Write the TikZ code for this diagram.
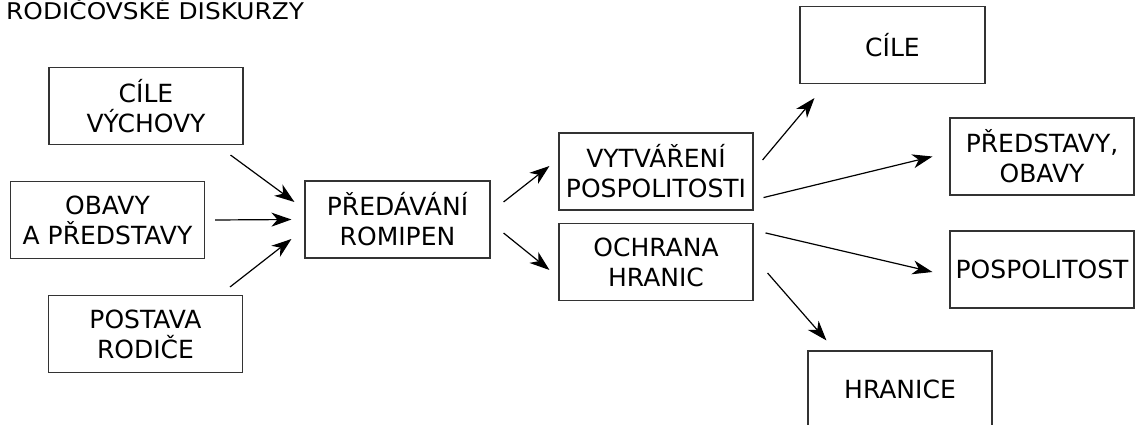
\documentclass[tikz,border=0pt]{standalone}
\usepackage{fontspec}
\setmainfont{DejaVu Sans}
\usetikzlibrary{arrows.meta}
\begin{document}
\begin{tikzpicture}[x=1pt,y=-1pt]
		\tikzset{mybox/.style={draw=black!80,line width=1.1pt,minimum width=194pt,minimum height=77pt,align=center,inner sep=0pt,font=\fontsize{25}{30}\selectfont,text=black},
			myarrow/.style={line width=1.2pt,-{Stealth[length=20pt,width=14pt,inset=6pt]}}}
		\useasboundingbox (0,0) rectangle (1135,425);
		%Title
		\node[anchor=base west,inner sep=0pt,font=\fontsize{23}{27}\selectfont] (title) at (6,20) {\scalebox{1.08}[1]{RODIČOVSKÉ DISKURZY}};
		%Left column
		\node[mybox] (cv) at (146,106) {CÍLE\\VÝCHOVY};
		\node[mybox] (oa) at (107.5,220) {OBAVY\\A PŘEDSTAVY};
		\node[mybox] (pr) at (145.5,334) {POSTAVA\\RODIČE};
		%Middle
		\node[mybox,minimum width=185pt] (pd) at (397.5,219.5) {PŘEDÁVÁNÍ\\ROMIPEN};
		\node[mybox] (vp) at (656,171.5) {VYTVÁŘENÍ\\POSPOLITOSTI};
		\node[mybox] (oh) at (656,262) {OCHRANA\\HRANIC};
		%Right column
		\node[mybox,minimum width=185pt] (ci) at (892.5,45) {CÍLE};
		\node[mybox,minimum width=184pt] (po) at (1042,156.5) {PŘEDSTAVY,\\OBAVY};
		\node[mybox,minimum width=184pt] (ps) at (1042,269.5) {POSPOLITOST};
		\node[mybox,minimum width=184pt] (hr) at (900,389.5) {HRANICE};
		%Arrows
		\draw[myarrow] ([shift={(-13,10)}]cv.south east) -- ([shift={(-10,-17.5)}]pd.west);
		\draw[myarrow] ([shift={(10,0)}]oa.east) -- ([shift={(-13,0)}]pd.west);
		\draw[myarrow] ([shift={(-13,-8)}]pr.north east) -- ([shift={(-13,19.5)}]pd.west);
		\draw[myarrow] ([shift={(13,-17.5)}]pd.east) -- ([shift={(-9,-5.5)}]vp.west);
		\draw[myarrow] ([shift={(13,13.5)}]pd.east) -- ([shift={(-9,8)}]oh.west);
		\draw[myarrow] ([shift={(9,-11.5)}]vp.east) -- ([shift={(15,14)}]ci.south west);
		\draw[myarrow] ([shift={(10,-13)}]vp.south east) -- ([shift={(-17,0)}]po.west);
		\draw[myarrow] ([shift={(12,10)}]oh.north east) -- ([shift={(-17,2.5)}]ps.west);
		\draw[myarrow] ([shift={(14,11)}]oh.east) -- ([shift={(19,-10)}]hr.north west);
	\end{tikzpicture}
\end{document}
